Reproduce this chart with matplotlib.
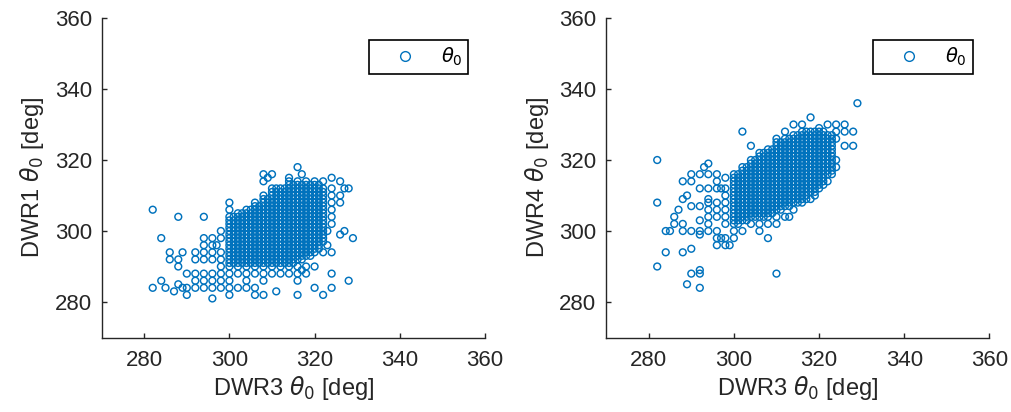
import matplotlib
matplotlib.use('Agg')
import matplotlib.pyplot as plt
from matplotlib.lines import Line2D

# occupied cells, 1 deg grid
# each row: y value -> 6 groups of 10 chars covering x = 280..339
LEFT_ROWS = {
    318: ".......... .......... .......... ......o... .......... ..........",
    316: ".......... .......... ........o. o......o.. .......... ..........",
    315: ".......... .......... .........o ....o..... ....o..... ..........",
    314: ".......... .......... ........o. ....o.o.o. o.o...o... ..........",
    313: ".......... .......... .......... ....oooooo oo........ ..........",
    312: ".......... .......... .......... oooooooooo ooo.o..oo. ..........",
    311: ".......... .......... .......... oooooooooo ooo....... ..........",
    310: ".......... .......... ........o. oooooooooo ooo.o.o... ..........",
    309: ".......... .......... ........oo oooooooooo ooo....... ..........",
    308: ".......... .......... o.....o.oo oooooooooo ooo.o.o... ..........",
    307: ".......... .......... ......oooo oooooooooo ooo....... ..........",
    306: "..o....... .......... o...oooooo oooooooooo ooo.o..... ..........",
    305: ".......... .......... ..oooooooo oooooooooo ooo....... ..........",
    304: "........o. ....o..... oooooooooo oooooooooo ooo.o..... ..........",
    303: ".......... .......... oooooooooo oooooooooo ooo....... ..........",
    302: ".......... .......... oooooooooo oooooooooo ooo.o..... ..........",
    301: ".......... .......... oooooooooo oooooooooo ooo....... ..........",
    300: ".......... ........o. oooooooooo oooooooooo oooo...o.. ..........",
    299: ".......... .......... oooooooooo oooooooooo ooo...o... ..........",
    298: "....o..... ....o.o.o. oooooooooo oooooooooo ooo......o ..........",
    297: ".......... .......... oooooooooo oooooooooo ooo....... ..........",
    296: ".......... ....o.oo.. oooooooooo oooooooooo oo.o...... ..........",
    295: ".......... .......... oooooooooo oooooooooo oo........ ..........",
    294: "......o..o ..o.o.o.o. oooooooooo oooooooooo o.o.o..... ..........",
    293: ".......... .......... oooooooooo oooooooooo .......... ..........",
    292: "......o.o. ..o.o.o.o. oooooooooo oooooooo.. .......... ..........",
    291: ".......... .......... oooooooooo oooooo.... .......... ..........",
    290: "........o. ........o. o.o.o.o.o. o.o.o.o.o. o......... ..........",
    289: ".......... .......... .......... .......o.. .......... ..........",
    288: ".......... o.o.o.o.o. o.o.o.o.o. o.o.o.o.o. ....o..... ..........",
    286: "....o..... ..o.o.o.o. o...o...o. ......o... ........o. ..........",
    285: "........o. .......... .......... .......... .......... ..........",
    284: "..o..o...o o.o.o.o.o. o.o.o.o... .......... o...o..... ..........",
    283: ".......o.. .......... .......... .o........ .......... ..........",
    282: ".......... o......... o.....o.o. ......o... ..o....... ..........",
    281: ".......... ......o... .......... .......... .......... ..........",
}

RIGHT_ROWS = {
    336: ".......... .......... .......... .......... .........o ..........",
    332: ".......... .......... .......... ........o. .......... ..........",
    330: ".......... .......... .......... ....o.o... ..o.o.o... ..........",
    329: ".......... .......... .......... .......... o......... ..........",
    328: ".......... .......... ..o....... ..o...oooo oo..o.o.o. ..........",
    327: ".......... .......... .......... ....oooooo oooo...... ..........",
    326: ".......... .......... .......... o.oooooooo ooooo..... ..........",
    325: ".......... .......... .......... oooooooooo oooo...... ..........",
    324: ".......... .......... ....o..... oooooooooo oooo..o.o. ..........",
    323: ".......... .......... ........oo oooooooooo oooo...... ..........",
    322: ".......... .......... ......oooo oooooooooo oooo...... ..........",
    321: ".......... .......... ......oooo oooooooooo oooo...... ..........",
    320: "..o....... .......... ....oooooo oooooooooo ooooo..... ..........",
    319: ".......... ....o..... ....oooooo oooooooooo oooo...... ..........",
    318: ".......... ...o...... ..oooooooo oooooooooo ooooo..... ..........",
    317: ".......... .......... ..oooooooo oooooooooo oooo...... ..........",
    316: ".......... o.o.o.o... oooooooooo oooooooooo oooo...... ..........",
    315: ".......... ........o. oooooooooo oooooooooo oo........ ..........",
    314: "........o. o.....o... oooooooooo oooooooooo ooo....... ..........",
    313: ".......... .......... oooooooooo oooooooooo oo........ ..........",
    312: ".......... ..o.o.ooo. oooooooooo oooooooooo o......... ..........",
    311: ".......... .......... oooooooooo oooooooooo .......... ..........",
    310: ".........o ........o. oooooooooo oooooooo.o .......... ..........",
    309: "........o. ....o..... oooooooooo ooooooooo. .......... ..........",
    308: "..o....... ....o.o.o. oooooooooo ooooooo... .......... ..........",
    307: ".......... o.o....... oooooooooo oooo...... .......... ..........",
    306: ".......o.. ....o.o.o. oooooooooo oo..o..... .......... ..........",
    305: ".......... .......... oooooooooo .......... .......... ..........",
    304: "......o... ....o.o.o. ooooooooo. o.oo...... .......... ..........",
    303: ".......... ..o....... oooo...... .......... .......... ..........",
    302: "......o.o. ....o...o. oo..o.o.o. o......... .......... ..........",
    300: "....oo..o. o.o.o.o... o.o...o... .......... .......... ..........",
    299: ".......... ..o....... .......... .......... .......... ..........",
    298: ".......... ......ooo. o.......o. .......... .......... ..........",
    296: ".......... ......o.oo .......... .......... .......... ..........",
    295: ".......... o......... .......... .......... .......... ..........",
    294: "....o...o. .......... .......... .......... .......... ..........",
    290: "..o....... .......... .......... .......... .......... ..........",
    289: ".......... ..o....... .......... .......... .......... ..........",
    288: ".......... o.o....... .......... o......... .......... ..........",
    285: ".........o .......... .......... .......... .......... ..........",
    284: ".......... ..o....... .......... .......... .......... ..........",
}

X_START = 280
TICKS = [280, 300, 320, 340, 360]
X_LABEL = r'DWR3 $\theta_0$ [deg]'
Y_LABELS = [r'DWR1 $\theta_0$ [deg]', r'DWR4 $\theta_0$ [deg]']
LEGEND_LABEL = r'$\theta_0$'

BLUE = '#0072BD'
AXCOL = '#262626'


def read_rows(rows):
    xs = []
    ys = []
    for y, line in rows.items():
        line = line.replace(' ', '')
        for i, ch in enumerate(line):
            if ch == 'o':
                xs.append(X_START + i)
                ys.append(y)
    return xs, ys


plt.rcParams['font.family'] = ['Liberation Sans', 'DejaVu Sans']
plt.rcParams['mathtext.fontset'] = 'dejavusans'

fig = plt.figure(figsize=(10.11, 4.12), dpi=100)
ax1 = fig.add_axes([0.1005, 0.1808, 0.3792, 0.7755])
ax2 = fig.add_axes([0.5995, 0.1808, 0.3792, 0.7755])

for ax, rows, ylab in [(ax1, LEFT_ROWS, Y_LABELS[0]), (ax2, RIGHT_ROWS, Y_LABELS[1])]:
    xs, ys = read_rows(rows)
    ax.scatter(xs, ys, s=24, facecolors='none', edgecolors=BLUE, linewidths=1.05)
    ax.set_xlim(270, 360)
    ax.set_ylim(270, 360)
    ax.set_xticks(TICKS)
    ax.set_yticks(TICKS)
    for side in ['top', 'right']:
        ax.spines[side].set_visible(False)
    for side in ['left', 'bottom']:
        ax.spines[side].set_color(AXCOL)
        ax.spines[side].set_linewidth(1.0)
    ax.tick_params(direction='in', length=3.5, width=1.0, colors=AXCOL,
                   labelsize=16, labelcolor=AXCOL)
    ax.tick_params(axis='x', pad=9)
    ax.tick_params(axis='y', pad=7)
    ax.set_xlabel(X_LABEL, fontsize=17, color=AXCOL, labelpad=2)
    ax.set_ylabel(ylab, fontsize=17, color=AXCOL, labelpad=6)

    h = Line2D([], [], ls='none', marker='o', ms=7, mfc='none', mec=BLUE, mew=1.0)
    leg = ax.legend([h], [LEGEND_LABEL], loc='upper right',
                    bbox_to_anchor=(0.956, 0.931), borderaxespad=0,
                    fontsize=14, fancybox=False, framealpha=1,
                    edgecolor='black', handlelength=3.1, handletextpad=0.3,
                    borderpad=0.3)
    leg.get_frame().set_linewidth(1.2)

fig.savefig('out.png', dpi=100)
